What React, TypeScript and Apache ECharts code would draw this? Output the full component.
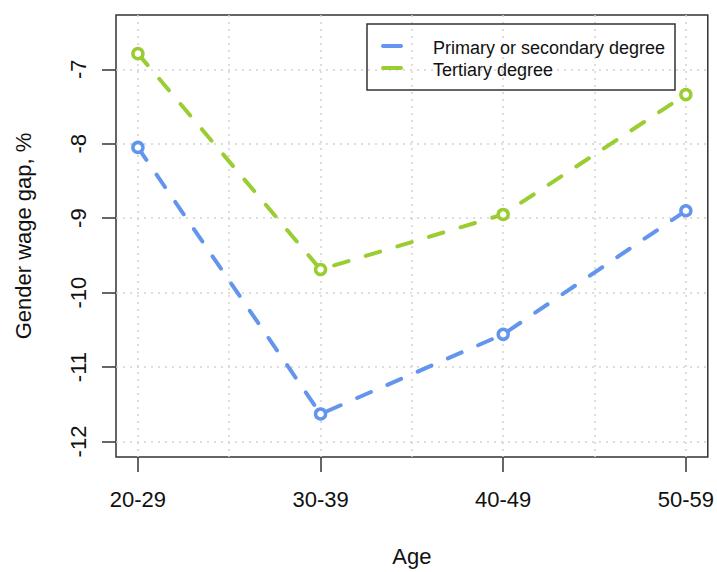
import React, { useEffect, useRef } from "react";
import * as echarts from "echarts";

const ageGroups = ["20-29", "30-39", "40-49", "50-59"];
const seriesNames = ["Primary or secondary degree", "Tertiary degree"];
const primaryValues = [-8.05, -11.63, -10.56, -8.9];
const tertiaryValues = [-6.79, -9.69, -8.95, -7.34];
const yTicks = [-12, -11, -10, -9, -8, -7];
const xGridValues = [1, 1.5, 2, 2.5, 3, 3.5, 4];
const colors = ["#6495ED", "#9ACD32"];

const FONT = "'Liberation Sans', Arial, Helvetica, sans-serif";

export default function App() {
  const ref = useRef<HTMLDivElement>(null);
  useEffect(() => {
    if (!ref.current) return;
    const chart = echarts.init(ref.current, null, { renderer: "svg" });
    const xPos = ageGroups.map((_, i) => i + 1);
    const allValues = [primaryValues, tertiaryValues];
    const gridStyle = { color: "#d2d2d2", width: 1.5, type: [2, 5] as any };
    chart.setOption({
      animation: false,
      backgroundColor: "#ffffff",
      textStyle: { fontFamily: FONT },
      grid: {
        left: 116,
        right: 8,
        top: 15,
        bottom: 109,
        show: true,
        borderColor: "#333",
        borderWidth: 1.5,
        backgroundColor: "transparent",
        containLabel: false,
      },
      xAxis: [
        {
          type: "value",
          min: 0.88,
          max: 4.12,
          position: "bottom",
          name: "Age",
          nameLocation: "middle",
          nameGap: 88,
          nameTextStyle: { fontSize: 22, color: "#111", fontFamily: FONT },
          axisLine: { show: false },
          axisTick: {
            show: true,
            length: 15,
            customValues: xPos,
            lineStyle: { color: "#333", width: 1.5 },
          },
          axisLabel: {
            customValues: xPos,
            margin: 31,
            fontSize: 22,
            color: "#111",
            fontFamily: FONT,
            formatter: (v: number) => ageGroups[Math.round(v) - 1] ?? "",
          },
          splitLine: { show: false },
        },
        {
          type: "value",
          min: 0.88,
          max: 4.12,
          position: "bottom",
          axisLine: { show: false },
          axisTick: { show: false, customValues: xGridValues },
          axisLabel: { show: false, customValues: xGridValues },
          splitLine: { show: true, lineStyle: gridStyle },
        },
      ],
      yAxis: {
        type: "value",
        min: -12.208,
        max: -6.271,
        name: "Gender wage gap, %",
        nameLocation: "middle",
        nameGap: 82,
        nameTextStyle: { fontSize: 22, color: "#111", fontFamily: FONT },
        axisLine: { show: false },
        axisTick: {
          show: true,
          length: 14,
          customValues: yTicks,
          lineStyle: { color: "#333", width: 1.5 },
        },
        axisLabel: {
          customValues: yTicks,
          rotate: 90,
          margin: 27,
          fontSize: 22,
          color: "#111",
          fontFamily: FONT,
        },
        splitLine: { show: true, lineStyle: gridStyle },
      },
      series: allValues.map((vals, s) => ({
        name: seriesNames[s],
        type: "line",
        xAxisIndex: 0,
        data: vals.map((v, i) => [xPos[i], v]),
        symbol: "circle",
        symbolSize: 10,
        itemStyle: { color: "#ffffff", borderColor: colors[s], borderWidth: 3.5 },
        lineStyle: { color: colors[s], width: 4, type: [15, 18], cap: "round" },
        z: 3,
      })),
      graphic: [
        {
          type: "rect",
          shape: { x: 367, y: 24, width: 308, height: 66 },
          style: { fill: "transparent", stroke: "#333", lineWidth: 1.5 },
          z: 10,
        },
        ...seriesNames.flatMap((name, s) => [
          {
            type: "line",
            shape: { x1: 383, y1: 46 + s * 22, x2: 401, y2: 46 + s * 22 },
            style: { stroke: colors[s], lineWidth: 4, lineCap: "round" },
            z: 10,
          },
          {
            type: "text",
            x: 433,
            y: 48 + s * 22,
            style: {
              text: name,
              fontSize: 18,
              fontFamily: FONT,
              fill: "#111",
              verticalAlign: "middle",
            },
            z: 10,
          },
        ]),
      ],
    });
    return () => chart.dispose();
  }, []);
  return (
    <div
      ref={ref}
      style={{ position: "fixed", left: 0, top: 0, width: 717, height: 572 }}
    />
  );
}
